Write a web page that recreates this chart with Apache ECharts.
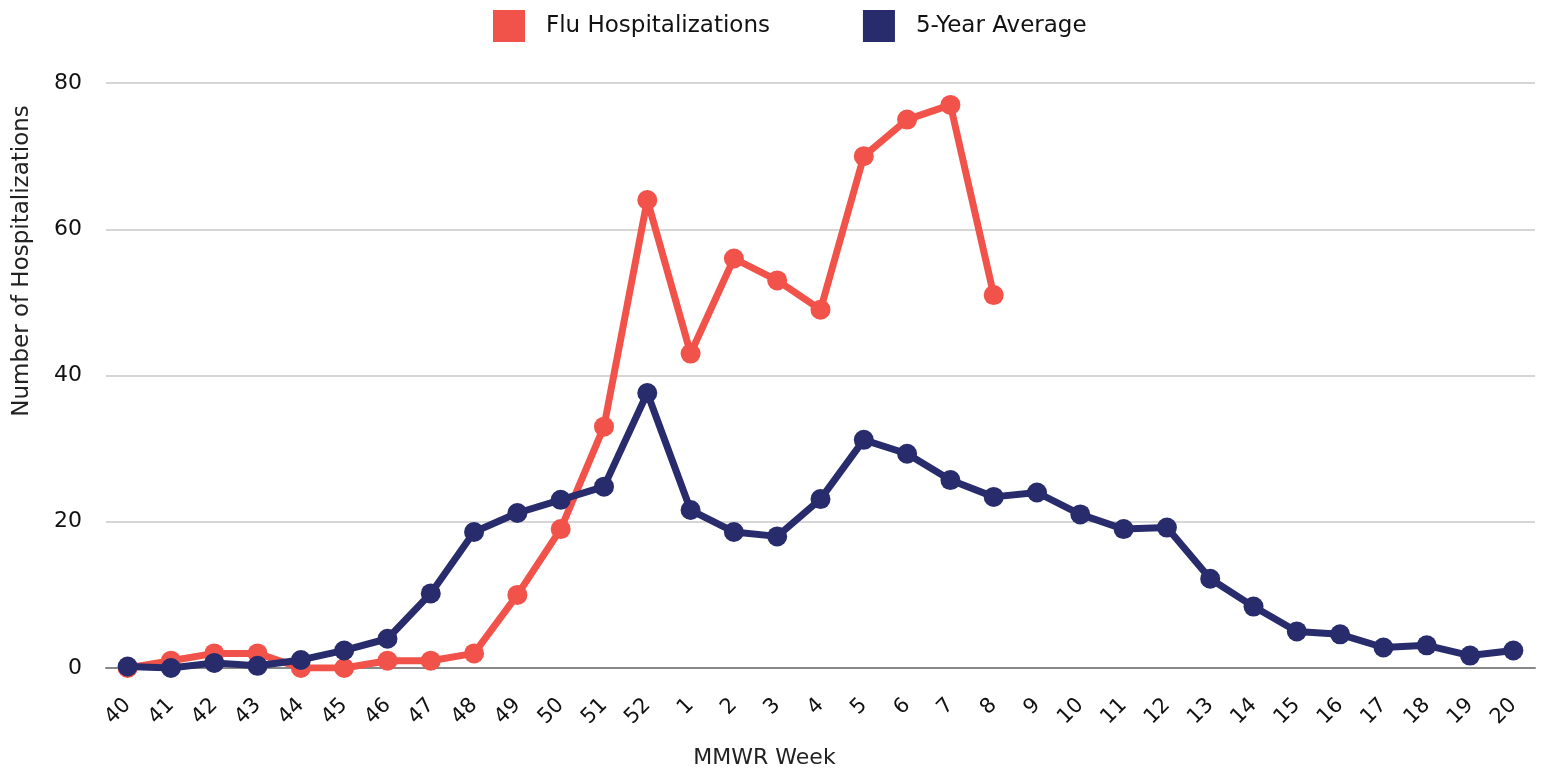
<!DOCTYPE html>
<html>
<head>
<meta charset="utf-8">
<script src="https://cdn.jsdelivr.net/npm/echarts@6/dist/echarts.min.js"></script>
<style>html,body{margin:0;padding:0;background:#fff}#c{width:1546px;height:771px}</style>
</head>
<body>
<div id="c"></div>
<script>
const weeks = ['40','41','42','43','44','45','46','47','48','49','50','51','52','1','2','3','4','5','6','7','8','9','10','11','12','13','14','15','16','17','18','19','20'];
const fluHosp = [0,1,2,2,0,0,1,1,2,10,19,33,64,43,56,53,49,70,75,77,51,null,null,null,null,null,null,null,null,null,null,null,null];
const fiveYearAvg = [0.2,0,0.7,0.3,1.1,2.4,4.0,10.2,18.6,21.2,23.0,24.8,37.6,21.6,18.6,18.0,23.1,31.2,29.3,25.7,23.4,24.0,21.0,19.0,19.2,12.2,8.4,5.0,4.6,2.8,3.1,1.7,2.4];
const yTicks = [0,20,40,60,80];

const FONT = 'DejaVu Sans';
const chart = echarts.init(document.getElementById('c'));
chart.setOption({
  animation: false,
  textStyle: {fontFamily: FONT},
  legend: {
    top: 10, left: 493, padding: 0,
    itemWidth: 32, itemHeight: 32, itemGap: 93,
    icon: 'rect',
    textStyle: {fontSize: 23, color: '#111', fontFamily: FONT, padding: [0,0,0,16]},
    data: ['Flu Hospitalizations','5-Year Average']
  },
  grid: {left: 106, right: 11, top: 83, bottom: 103, containLabel: false, outerBoundsMode: 'none'},
  xAxis: {
    type: 'category', data: weeks, boundaryGap: true,
    name: 'MMWR Week', nameLocation: 'middle', nameGap: 79,
    nameTextStyle: {fontSize: 22, color: '#222', fontFamily: FONT, padding: [0,112,0,0]},
    axisLine: {lineStyle: {color: '#888', width: 2}},
    axisTick: {show: false},
    axisLabel: {rotate: 45, fontSize: 21, color: '#111', margin: 34, interval: 0, fontFamily: FONT}
  },
  yAxis: {
    type: 'value', min: 0, max: 80, interval: 20,
    axisLine: {show: false}, axisTick: {show: false},
    axisLabel: {fontSize: 22, color: '#111', margin: 24, fontFamily: FONT},
    splitLine: {lineStyle: {color: '#c8c8c8', width: 1.5}}
  },
  graphic: [{
    type: 'text', x: 22, y: 261, rotation: Math.PI/2,
    style: {text: 'Number of Hospitalizations', fontSize: 23, fill: '#222', fontFamily: FONT, textAlign: 'center', textVerticalAlign: 'middle'}
  }],
  series: [
    {name: 'Flu Hospitalizations', type: 'line', data: fluHosp, symbol: 'circle', symbolSize: 20,
     lineStyle: {width: 7, color: '#F15249'}, itemStyle: {color: '#F15249'}, connectNulls: false, z: 2},
    {name: '5-Year Average', type: 'line', data: fiveYearAvg, symbol: 'circle', symbolSize: 20,
     lineStyle: {width: 7, color: '#282C6C'}, itemStyle: {color: '#282C6C'}, z: 3}
  ]
});
</script>
</body>
</html>
